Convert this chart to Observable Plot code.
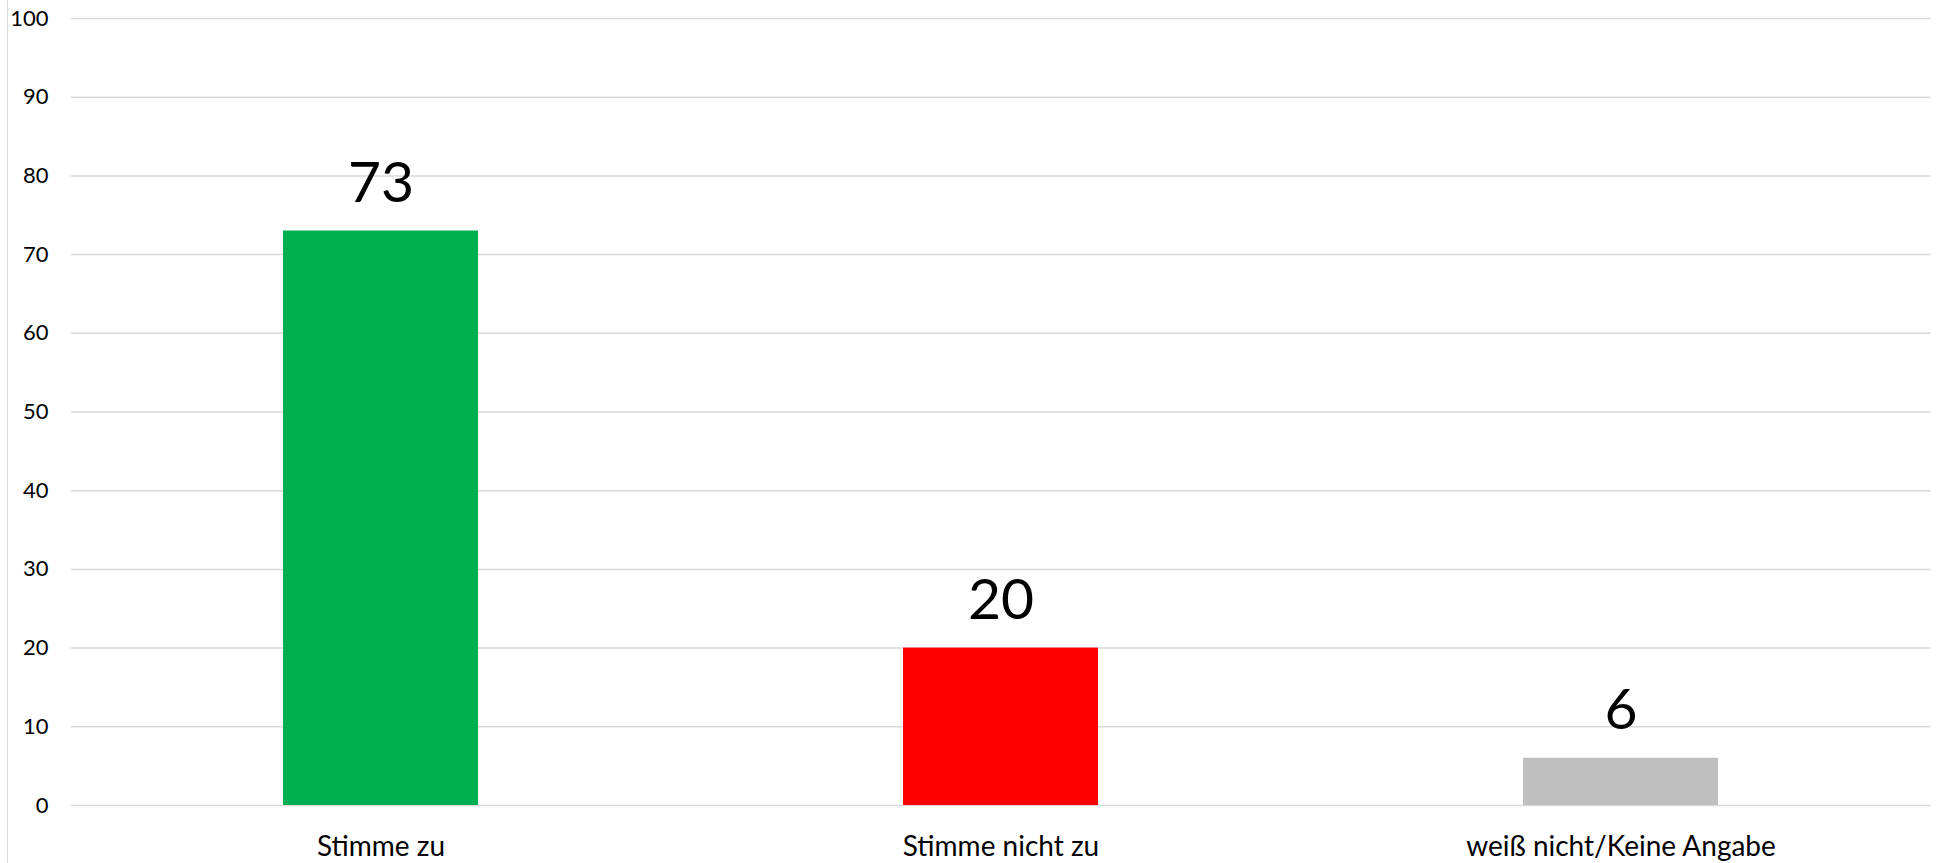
<!DOCTYPE html>
<html>
<head>
<meta charset="utf-8">
<script src="https://cdn.jsdelivr.net/npm/d3@7"></script>
<script src="https://cdn.jsdelivr.net/npm/@observablehq/plot@0.6"></script>
<style>
  html, body { margin: 0; padding: 0; background: #fff; }
  #wrap { position: relative; width: 1937px; height: 863px; overflow: hidden; }
  #vline { position: absolute; left: 7px; top: 0; width: 1px; height: 863px; background: #d9d9d9; z-index: 2; }
</style>
</head>
<body>
<div id="wrap"><div id="vline"></div></div>
<script>
const categories = ["Stimme zu", "Stimme nicht zu", "weiß nicht/Keine Angabe"];
const values = [73, 20, 6];
const colors = ["#00b050", "#ff0000", "#bfbfbf"];
const yTicks = [0, 10, 20, 30, 40, 50, 60, 70, 80, 90, 100];

const data = categories.map((c, i) => ({category: c, value: values[i], color: colors[i]}));

const chart = Plot.plot({
  width: 1937,
  height: 863,
  marginLeft: 71,
  marginRight: 6,
  marginTop: 18,
  marginBottom: 58,
  style: {fontFamily: "Lato, 'Liberation Sans', sans-serif", background: "#fff", color: "#000"},
  x: {domain: categories, paddingInner: 0.685, paddingOuter: 0.3425, label: null},
  y: {domain: [0, 100], label: null},
  marks: [
    Plot.gridY(yTicks, {stroke: "#d9d9d9", strokeOpacity: 1, strokeWidth: 1.5}),
    Plot.barY(data, {x: "category", y: "value", fill: "color"}),
    Plot.text(data, {x: "category", y: "value", text: d => String(d.value), dy: -29, lineAnchor: "bottom", fontSize: 57, fill: "#000"}),
    Plot.axisY(yTicks, {tickSize: 0, tickPadding: 23, fontSize: 22, fill: "#000", label: null}),
    Plot.axisX({tickSize: 0, tickPadding: 31, fontSize: 28, fill: "#000", label: null})
  ]
});
chart.style.position = "absolute";
chart.style.left = "0";
chart.style.top = "0";
chart.style.zIndex = "1";
document.getElementById("wrap").appendChild(chart);
</script>
</body>
</html>
